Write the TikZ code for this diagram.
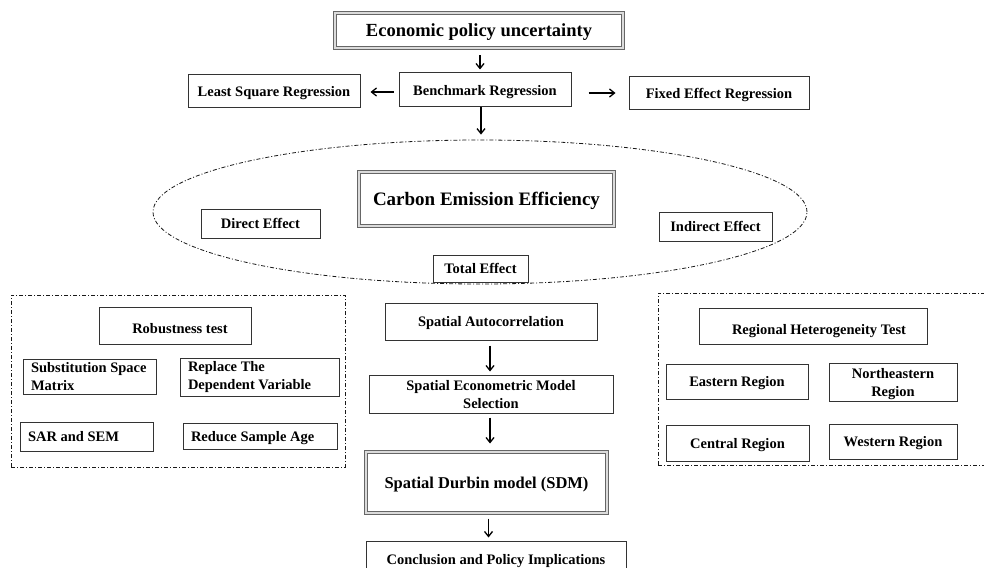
\documentclass[tikz,border=0pt]{standalone}
\usepackage{fontspec}
\setmainfont{Liberation Serif}
\usetikzlibrary{arrows.meta,shapes.geometric}
\begin{document}
\begin{tikzpicture}[x=1pt,y=-1pt,
  sz/.style 2 args={minimum width=#1pt, minimum height=#2pt},
  basebox/.style={draw=black!80, line width=1pt, fill=white, inner sep=0pt,
    font=\bfseries\fontsize{14.5}{18}\selectfont},
  box/.style={basebox, text depth=0pt, align=center},
  lbox/.style={basebox, align=left, inner xsep=8pt},
  dbox/.style={draw=black!60, line width=1pt, double=black!14, double distance=2.6pt,
    fill=white, inner sep=0pt, text depth=0pt, align=center},
  grp/.style={draw=black!90, line width=0.8pt, dash pattern=on 4pt off 2pt on 1pt off 2pt, inner sep=0pt},
  arr/.style={draw=black, line width=1.3pt, -{Straight Barb[length=5pt,width=8pt]}},
]
\useasboundingbox (0,0) rectangle (984,567);
\fill[white] (0,0) rectangle (984,567);
\clip (0,0) rectangle (984,567);

% group outlines
\node[grp, ellipse, sz={654}{144}] (ell) at (480,212) {};
\node[grp, sz={334}{172}] (lgrp) at (178,381) {};
\node[grp, sz={334}{172}] (rgrp) at (825,379) {};

% top
\node[dbox, sz={288}{35}, font=\bfseries\fontsize{18.5}{22}\selectfont] (epu) at (479,30.5) {Economic policy uncertainty};
\node[box, sz={172}{34}] (bench) at (485,90) {Benchmark Regression};
\node[box, sz={172}{33}] (lsr) at (274,91.5) {Least Square Regression};
\node[box, sz={180}{33}] (fer) at (719,93.5) {Fixed Effect Regression};

% ellipse content
\node[dbox, sz={255}{54}, font=\bfseries\fontsize{19}{22}\selectfont] (cee) at (486.5,199) {Carbon Emission Efficiency};
\node[box, sz={119}{29}] (de) at (260.5,223.5) {Direct Effect};
\node[box, sz={113}{29}] (ie) at (715.5,226.5) {Indirect Effect};
\node[box, sz={95}{27}] (te) at (480.5,268.5) {Total Effect};

% left group
\node[box, sz={152}{37}, text height=16pt] (rob) at (175,325.5) {\hspace{10pt}Robustness test};
\node[lbox, sz={133}{35}, text width=117pt] (ssm) at (89.5,376.5) {\spaceskip=0pt\xspaceskip=0pt Substitution Space\\Matrix};
\node[lbox, sz={159}{38}, text width=143pt] (rdv) at (259.5,377) {\spaceskip=0pt\xspaceskip=0pt Replace The\\Dependent Variable};
\node[lbox, sz={133}{29}, text width=117pt, text depth=0pt] (sar) at (86.5,436.5) {\spaceskip=0pt\xspaceskip=0pt SAR and SEM};
\node[lbox, sz={154}{26}, text width=138pt, text depth=0pt] (rsa) at (260,436) {\spaceskip=0pt\xspaceskip=0pt Reduce Sample Age};

% center column
\node[box, sz={212}{37}] (sa) at (491,321.5) {Spatial Autocorrelation};
\node[box, sz={244}{38}] (sems) at (491,394) {Spatial Econometric Model\\Selection};
\node[dbox, sz={241}{61}, font=\bfseries\fontsize{16.5}{20}\selectfont] (sdm) at (486.5,482.5) {Spatial Durbin model (SDM)};
\node[box, sz={260}{36}] (conc) at (496,559) {Conclusion and Policy Implications};

% right group
\node[box, sz={228}{36}, text height=16pt] (rht) at (813,326) {\hspace{12pt}Regional Heterogeneity Test};
\node[box, sz={142}{35}] (er) at (737,381.5) {Eastern Region};
\node[box, sz={128}{38}] (ner) at (893,382) {Northeastern\\Region};
\node[box, sz={143}{36}] (cr) at (737.5,443.5) {Central Region};
\node[box, sz={128}{35}] (wr) at (893,441.5) {Western Region};

% connectors
\draw[arr, shorten <=7pt, shorten >=3pt] ([xshift=1pt]epu.south) -- ([xshift=1pt]epu.south |- bench.north);
\draw[arr, shorten <=5pt, shorten >=10pt] ([yshift=-2pt]bench.west) -- ([yshift=-2pt]bench.west -| lsr.east);
\draw[arr, shorten <=17pt, shorten >=13pt] ([yshift=-3pt]bench.east) -- ([yshift=-3pt]bench.east -| fer.west);
\draw[arr, shorten >=5pt] ([xshift=-4pt]bench.south) -- ([xshift=-4pt]bench.south |- ell.north);
\draw[arr, shorten <=5pt, shorten >=3pt] ([xshift=-1pt]sa.south) -- ([xshift=-1pt]sa.south |- sems.north);
\draw[arr, shorten <=4pt, shorten >=8pt] ([xshift=-1pt]sems.south) -- ([xshift=-1pt]sems.south |- sdm.north);
\draw[arr, shorten <=5pt, shorten >=3pt] ([xshift=2pt]sdm.south) -- ([xshift=2pt]sdm.south |- conc.north);
\end{tikzpicture}
\end{document}
